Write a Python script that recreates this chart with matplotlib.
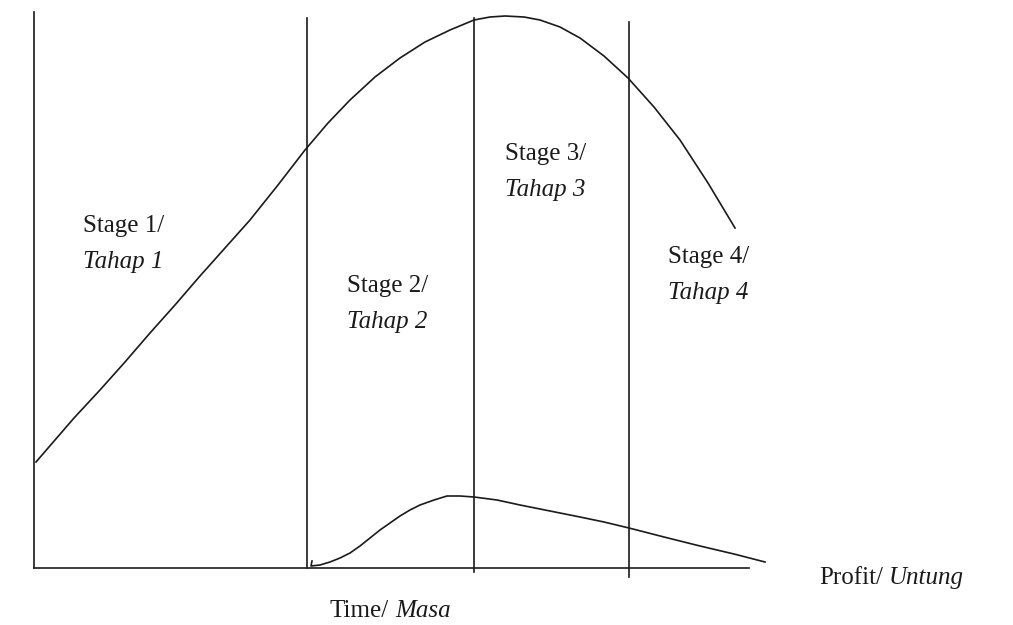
import matplotlib.pyplot as plt

plt.rcParams['font.family'] = 'Liberation Serif'

# sales curve (time, value)
sales_t = [2, 40, 66, 91, 116, 141, 166, 191, 216, 244, 271, 294, 316, 341, 366, 391, 416, 440,
           456, 471, 490, 506, 526, 546, 570, 594, 620, 646, 674, 701]
sales_v = [106, 150, 178, 206, 235, 263, 292, 320, 348, 383, 418, 445, 468, 491, 510, 526, 538, 548,
           551, 552, 551, 548, 541, 530, 512, 490, 461, 428, 385, 340]

# profit curve
profit_t = [278, 277, 286, 296, 306, 316, 326, 336, 346, 356, 366, 376, 386, 400, 413, 426, 440,
            463, 486, 516, 546, 570, 595, 630, 666, 700, 731]
profit_v = [7, 2, 3, 6, 10, 15, 22, 30, 38, 45, 52, 58, 63, 68, 72, 72, 71,
            68, 63, 57, 51, 46, 40, 31, 22, 14, 6]

# stage boundaries
stage_x = [273, 440, 595]
stage_top = [550, 550, 546]
stage_bottom = [0, -4, -9]
axis_end = 715
axis_top = 556

stage_names = ["Stage 1/", "Stage 2/", "Stage 3/", "Stage 4/"]
stage_names_ms = ["Tahap 1", "Tahap 2", "Tahap 3", "Tahap 4"]
label_x = [49, 313, 471, 634]
label_y = [342, 282, 414, 311]

fig = plt.figure(figsize=(10.13, 6.25), dpi=100)
ax = fig.add_axes([0, 0, 1, 1])
ax.set_xlim(-34, 979)
ax.set_ylim(-57, 568)
ax.axis('off')

ink = '#1a1a1a'
fs = 18
ax.plot([0, 0], [0, axis_top], color=ink, lw=1.2)
ax.plot([0, axis_end], [0, 0], color=ink, lw=1.2)
for x, top, bot in zip(stage_x, stage_top, stage_bottom):
    ax.plot([x, x], [bot, top], color=ink, lw=1.2)

ax.plot(sales_t, sales_v, color=ink, lw=1.2)
ax.plot(profit_t, profit_v, color=ink, lw=1.2)

for name, ms, x, y in zip(stage_names, stage_names_ms, label_x, label_y):
    ax.text(x, y, name, fontsize=fs, va='center', ha='left', color=ink)
    ax.text(x, y - 36, ms, fontsize=fs, va='center', ha='left', style='italic', color=ink)

t1 = ax.text(785, -10, "Profit/", fontsize=fs, va='center', ha='left', color=ink)
ax.annotate("Untung", xy=(1, 0), xycoords=t1, xytext=(4, 0), textcoords='offset points',
            fontsize=fs, va='bottom', ha='left', style='italic', color=ink)
t2 = ax.text(296, -43, "Time/", fontsize=fs, va='center', ha='left', color=ink)
ax.annotate("Masa", xy=(1, 0), xycoords=t2, xytext=(4, 0), textcoords='offset points',
            fontsize=fs, va='bottom', ha='left', style='italic', color=ink)

fig.savefig("out.png", dpi=100)
